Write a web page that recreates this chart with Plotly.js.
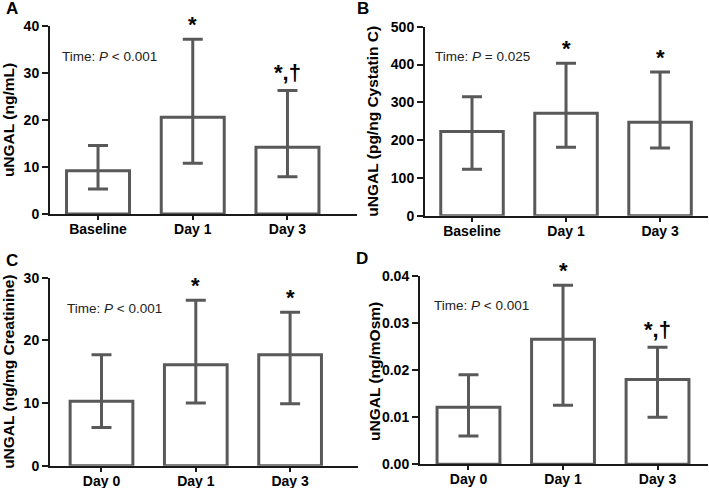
<!DOCTYPE html>
<html>
<head>
<meta charset="utf-8">
<script src="https://cdn.plot.ly/plotly-3.0.1.min.js"></script>
<style>html,body{margin:0;padding:0;background:#fff;}#chart{width:709px;height:488px;}</style>
</head>
<body>
<div id="chart"></div>
<script>
// ---- data ----
const categoriesAB = ['Baseline', 'Day 1', 'Day 3'];
const categoriesCD = ['Day 0', 'Day 1', 'Day 3'];

const meanA  = [9.2, 20.6, 14.2];
const upperA = [14.6, 37.2, 26.3];
const lowerA = [5.3, 10.8, 7.9];
const sigA   = ['', '*', '*,†'];

const meanB  = [223, 271, 247];
const upperB = [315, 403, 380];
const lowerB = [123, 181, 179];
const sigB   = ['', '*', '*'];

const meanC  = [10.3, 16.1, 17.7];
const upperC = [17.7, 26.4, 24.5];
const lowerC = [6.1, 10.0, 9.9];
const sigC   = ['', '*', '*'];

const meanD  = [0.0121, 0.0265, 0.0180];
const upperD = [0.0190, 0.0380, 0.0248];
const lowerD = [0.0060, 0.0125, 0.0100];
const sigD   = ['', '*', '*,†'];

const yTitles = ['uNGAL (ng/mL)', 'uNGAL (pg/ng Cystatin C)', 'uNGAL (ng/mg Creatinine)', 'uNGAL (ng/mOsm)'];
const timeTexts = ['Time: <i>P</i> &lt; 0.001', 'Time: <i>P</i> = 0.025', 'Time: <i>P</i> &lt; 0.001', 'Time: <i>P</i> &lt; 0.001'];
const panelLetters = ['A', 'B', 'C', 'D'];

// ---- styling ----
const FONT = 'Liberation Sans, Arial, sans-serif';
const BARC = '#595959';
const AXC = '#1a1a1a';

const panels = [
  {cats: categoriesAB, mean: meanA, up: upperA, lo: lowerA, sig: sigA, yr: [0, 40], dt: 10, fmt: '',
   xd: [50/709, 357/709], yd: [1-214/488, 1-26/488], xr: [-0.507, 2.734]},
  {cats: categoriesAB, mean: meanB, up: upperB, lo: lowerB, sig: sigB, yr: [0, 500], dt: 100, fmt: '',
   xd: [425/709, 708/709], yd: [1-215.7/488, 1-26.7/488], xr: [-0.5, 2.51]},
  {cats: categoriesCD, mean: meanC, up: upperC, lo: lowerC, sig: sigC, yr: [0, 30], dt: 10, fmt: '',
   xd: [50/709, 358/709], yd: [1-465.7/488, 1-277.7/488], xr: [-0.546, 2.72]},
  {cats: categoriesCD, mean: meanD, up: upperD, lo: lowerD, sig: sigD, yr: [0, 0.04], dt: 0.01, fmt: '.2f',
   xd: [420/709, 708/709], yd: [1-464.3/488, 1-275.7/488], xr: [-0.513, 2.534]}
];
const timePos = [[60/709, 1-56/488], [433/709, 1-57/488], [65/709, 1-308/488], [432/709, 1-305/488]];
const letterPos = [[12/709, 1-8/488], [363/709, 1-8/488], [12/709, 1-260/488], [362/709, 1-258/488]];
const standoffs = [9, 8, 6, 0];
// panel D's title sits closer to its tick labels than Plotly's minimum standoff allows
const titleAsAnnotation = [null, null, null, [374/709, 1-371/488]];

const traces = [];
const layout = {
  width: 709, height: 488,
  margin: {l: 0, r: 0, t: 0, b: 0},
  paper_bgcolor: '#fff', plot_bgcolor: 'rgba(0,0,0,0)',
  showlegend: false,
  font: {family: FONT, color: '#000'},
  annotations: []
};

panels.forEach((p, i) => {
  const n = i + 1;
  const xa = 'x' + (n === 1 ? '' : n);
  const ya = 'y' + (n === 1 ? '' : n);
  traces.push({
    type: 'bar', x: p.cats, y: p.mean, xaxis: xa, yaxis: ya,
    width: 0.665,
    marker: {color: '#ffffff', line: {color: BARC, width: 3}},
    error_y: {
      type: 'data', symmetric: false,
      array: p.up.map((u, k) => u - p.mean[k]),
      arrayminus: p.mean.map((m, k) => m - p.lo[k]),
      color: BARC, thickness: 3, width: 10
    },
    hoverinfo: 'skip'
  });
  layout['xaxis' + (n === 1 ? '' : n)] = {
    domain: p.xd, anchor: ya, type: 'category', range: p.xr,
    showline: true, linecolor: AXC, linewidth: 2,
    ticks: 'outside', ticklen: 4, tickwidth: 2, tickcolor: AXC,
    ticklabelstandoff: -3,
    tickfont: {family: FONT, size: 14, color: '#000', weight: 'bold'},
    showgrid: false, zeroline: false, fixedrange: true
  };
  const yax = {
    domain: p.yd, anchor: xa, range: p.yr, dtick: p.dt, tick0: 0, tickformat: p.fmt,
    showline: true, linecolor: AXC, linewidth: 2,
    ticks: 'outside', ticklen: 6, tickwidth: 2, tickcolor: AXC,
    tickfont: {family: FONT, size: 14, color: '#000', weight: 'bold'},
    showgrid: false, zeroline: false, fixedrange: true
  };
  if (titleAsAnnotation[i]) {
    layout.annotations.push({
      xref: 'paper', yref: 'paper', x: titleAsAnnotation[i][0], y: titleAsAnnotation[i][1],
      xanchor: 'center', yanchor: 'middle', textangle: -90, showarrow: false,
      text: '<b>' + yTitles[i] + '</b>', font: {family: FONT, size: 15.5, color: '#000'}
    });
  } else {
    yax.title = {text: '<b>' + yTitles[i] + '</b>', font: {family: FONT, size: 15.5, color: '#000'}, standoff: standoffs[i]};
  }
  layout['yaxis' + (n === 1 ? '' : n)] = yax;
  p.sig.forEach((s, k) => {
    if (!s) return;
    layout.annotations.push({
      xref: xa, yref: ya, x: p.cats[k], y: p.up[k], text: '<b>' + s + '</b>',
      showarrow: false, yanchor: 'bottom', yshift: s.length > 1 ? 3 : 0,
      font: {family: FONT, size: 22, color: '#000'}
    });
  });
  layout.annotations.push({
    xref: 'paper', yref: 'paper', x: timePos[i][0], y: timePos[i][1],
    xanchor: 'left', yanchor: 'middle', showarrow: false,
    text: timeTexts[i], font: {family: FONT, size: 13.5, color: '#222'}
  });
  layout.annotations.push({
    xref: 'paper', yref: 'paper', x: letterPos[i][0], y: letterPos[i][1],
    xanchor: 'center', yanchor: 'middle', showarrow: false,
    text: '<b>' + panelLetters[i] + '</b>', font: {family: FONT, size: 17, color: '#000'}
  });
});

Plotly.newPlot('chart', traces, layout, {staticPlot: true, displayModeBar: false});
</script>
</body>
</html>
